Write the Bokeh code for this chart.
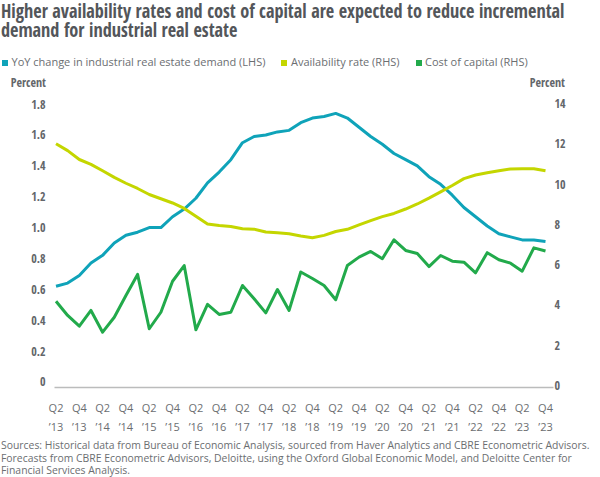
from bokeh.plotting import figure
from bokeh.layouts import column
from bokeh.models import Range1d, LinearAxis, FixedTicker, ColumnDataSource, Div
from bokeh.embed import file_html
from bokeh.resources import INLINE

# ---------------- data ----------------
# quarterly index 0 = Q2 2013 ... 42 = Q4 2023
quarter_index = list(range(43))

# YoY change in industrial real estate demand (LHS, percent)
demand_yoy = [0.62, 0.64, 0.69, 0.77, 0.82, 0.90, 0.95, 0.97, 1.00, 1.00,
              1.07, 1.12, 1.19, 1.29, 1.36, 1.44, 1.55, 1.59, 1.60, 1.62,
              1.63, 1.68, 1.71, 1.72, 1.74, 1.71, 1.65, 1.59, 1.54, 1.48,
              1.44, 1.40, 1.33, 1.28, 1.21, 1.13, 1.07, 1.01, 0.96, 0.94,
              0.92, 0.92, 0.91]

# Availability rate (RHS, percent)
availability = [12.00, 11.66, 11.22, 10.98, 10.66, 10.33, 10.04, 9.78, 9.48, 9.27,
                9.06, 8.79, 8.40, 8.01, 7.94, 7.89, 7.78, 7.76, 7.62, 7.58,
                7.53, 7.42, 7.33, 7.45, 7.64, 7.75, 7.97, 8.18, 8.38, 8.54,
                8.76, 9.01, 9.30, 9.61, 9.93, 10.27, 10.45, 10.56, 10.66, 10.75,
                10.76, 10.76, 10.66]

# Cost of capital (RHS, percent)
cost_of_capital = [4.18, 3.47, 2.94, 3.72, 2.64, 3.38, 4.46, 5.51, 2.81, 3.63,
                   5.17, 5.95, 2.76, 4.02, 3.52, 3.63, 4.96, 4.30, 3.60, 4.76,
                   3.72, 5.63, 5.31, 4.96, 4.25, 5.95, 6.37, 6.65, 6.29, 7.23,
                   6.70, 6.55, 5.90, 6.45, 6.17, 6.12, 5.59, 6.59, 6.24, 6.07,
                   5.67, 6.83, 6.67]

x_tick_values = list(range(0, 43, 2))
x_tick_labels = ["Q2\n\u201913", "Q4\n\u201913", "Q2\n\u201914", "Q4\n\u201914",
                 "Q2\n\u201915", "Q4\n\u201915", "Q2\n\u201916", "Q4\n\u201916",
                 "Q2\n\u201917", "Q4\n\u201917", "Q2\n\u201918", "Q4\n\u201918",
                 "Q2\n\u201919", "Q4\n\u201919", "Q2\n\u201920", "Q4\n\u201920",
                 "Q2\n\u201921", "Q4\n\u201921", "Q2\n\u201922", "Q4\n\u201922",
                 "Q2\n\u201923", "Q4\n\u201923"]
lhs_tick_values = [0, 0.2, 0.4, 0.6, 0.8, 1.0, 1.2, 1.4, 1.6, 1.8]
lhs_tick_labels = ["0", "0.2", "0.4", "0.6", "0.8", "1.0", "1.2", "1.4", "1.6", "1.8"]
rhs_tick_values = [0, 2, 4, 6, 8, 10, 12, 14]
rhs_tick_labels = ["0", "2", "4", "6", "8", "10", "12", "14"]
axis_unit = "Percent"

series_names = ["YoY change in industrial real estate demand (LHS)",
                "Availability rate (RHS)", "Cost of capital (RHS)"]

title_lines = ["Higher availability rates and cost of capital are expected to reduce incremental",
               "demand for industrial real estate"]
source_lines = ["Sources: Historical data from Bureau of Economic Analysis, sourced from Haver Analytics and CBRE Econometric Advisors.",
                "Forecasts from CBRE Econometric Advisors, Deloitte, using the Oxford Global Economic Model, and Deloitte Center for",
                "Financial Services Analysis."]

# ---------------- style ----------------
TEAL = "#0FA3B9"
YELLOW = "#C4D600"
GREEN = "#22AA4B"
SERIES_COLORS = [TEAL, YELLOW, GREEN]
TITLE_GRAY = "#53565A"
TICK_GRAY = "#63666A"
TEXT_GRAY = "#6B6E71"
COND = "'Open Sans Condensed', 'Open Sans', sans-serif"
SANS = "'Open Sans', sans-serif"

W = 600
TOP_H = 90          # title / legend block
BOT_H = 36          # sources block
FIG_H = 477 - TOP_H - BOT_H
FL, FR = 54, 553    # frame left / right in page px
FT, FB = 95, 387    # frame top / bottom in page px

p = figure(width=W, height=FIG_H, output_backend="svg", toolbar_location=None,
           x_range=Range1d(-0.129, 42.686), y_range=Range1d(-0.0365, 1.856),
           min_border_left=FL, min_border_right=W - FR,
           min_border_top=FT - TOP_H, min_border_bottom=TOP_H + FIG_H - FB)
p.extra_y_ranges = {"rhs": Range1d(-0.109, 14.40)}
p.outline_line_color = None
p.grid.visible = False
p.background_fill_color = "white"
p.border_fill_color = "white"

src = ColumnDataSource(dict(x=quarter_index, demand=demand_yoy,
                            avail=availability, coc=cost_of_capital))
p.line("x", "demand", source=src, line_color=TEAL, line_width=3, line_join="round")
p.line("x", "avail", source=src, line_color=YELLOW, line_width=3, line_join="round",
       y_range_name="rhs")
p.line("x", "coc", source=src, line_color=GREEN, line_width=3, line_join="round",
       y_range_name="rhs")

# x axis
xa = p.xaxis[0]
xa.ticker = FixedTicker(ticks=x_tick_values)
xa.major_label_overrides = {v: l for v, l in zip(x_tick_values, x_tick_labels)}
xa.axis_line_color = "#BBBCBC"
xa.axis_line_width = 1.5
xa.major_tick_line_color = None
xa.minor_tick_line_color = None
xa.major_tick_in = 0
xa.major_tick_out = 0
xa.major_label_standoff = 12
xa.major_label_text_font = "Open Sans"
xa.major_label_text_font_size = "11px"
xa.major_label_text_color = TEXT_GRAY
xa.major_label_text_line_height = 1.3

# left axis
ya = p.yaxis[0]
ya.ticker = FixedTicker(ticks=lhs_tick_values)
ya.major_label_overrides = {v: l for v, l in zip(lhs_tick_values, lhs_tick_labels)}
ya.axis_line_color = None
ya.major_tick_line_color = None
ya.minor_tick_line_color = None
ya.major_tick_in = 0
ya.major_tick_out = 0
ya.major_label_standoff = 9
ya.major_label_text_font = "Open Sans Condensed"
ya.major_label_text_font_style = "bold"
ya.major_label_text_font_size = "12px"
ya.major_label_text_color = TICK_GRAY

# right axis
ra = LinearAxis(y_range_name="rhs", ticker=FixedTicker(ticks=rhs_tick_values))
ra.major_label_overrides = {v: l for v, l in zip(rhs_tick_values, rhs_tick_labels)}
ra.axis_line_color = None
ra.major_tick_line_color = None
ra.minor_tick_line_color = None
ra.major_tick_in = 0
ra.major_tick_out = 0
ra.major_label_standoff = 1
ra.major_label_text_font = "Open Sans Condensed"
ra.major_label_text_font_style = "bold"
ra.major_label_text_font_size = "12px"
ra.major_label_text_color = TICK_GRAY
p.add_layout(ra, "right")

# ---------------- text blocks ----------------
legend_html = "".join(
    f'<span style="display:inline-block;width:6px;height:6px;background:{c};'
    f'margin-right:3.5px;"></span>'
    f'<span style="margin-right:{16 if i < 2 else 0}px;">{name}</span>'
    for i, (name, c) in enumerate(zip(series_names, SERIES_COLORS)))

top_html = (
    f'<div style="position:relative;width:{W}px;height:{TOP_H}px;">'
    f'<div style="position:absolute;left:1px;top:1.2px;white-space:nowrap;'
    f'transform:scaleX(0.935);transform-origin:0 0;'
    f'font-family:{COND};font-weight:700;font-size:19.5px;line-height:19px;color:{TITLE_GRAY};">'
    f'{title_lines[0]}<br>{title_lines[1]}</div>'
    f'<div style="position:absolute;left:2px;top:55.6px;white-space:nowrap;'
    f'font-family:{SANS};font-size:11px;line-height:12px;color:{TEXT_GRAY};">{legend_html}</div>'
    f'<div style="position:absolute;right:{W - 46}px;top:76.8px;white-space:nowrap;'
    f'font-family:{COND};font-weight:700;font-size:12px;line-height:12px;color:{TICK_GRAY};">{axis_unit}</div>'
    f'<div style="position:absolute;right:{W - 565}px;top:76.8px;white-space:nowrap;'
    f'font-family:{COND};font-weight:700;font-size:12px;line-height:12px;color:{TICK_GRAY};">{axis_unit}</div>'
    '</div>')

bottom_html = (
    f'<div style="position:relative;width:{W}px;height:{BOT_H}px;">'
    f'<div style="position:absolute;left:1px;top:-2px;white-space:nowrap;'
    f'font-family:{SANS};font-size:10.4px;line-height:12.5px;color:{TEXT_GRAY};">'
    + "<br>".join(source_lines) + '</div></div>')

top_div = Div(text=top_html, width=W, height=TOP_H, margin=0)
bottom_div = Div(text=bottom_html, width=W, height=BOT_H, margin=0)

layout = column(top_div, p, bottom_div, spacing=0, margin=0)
open("out.html", "w").write(file_html(layout, INLINE))
